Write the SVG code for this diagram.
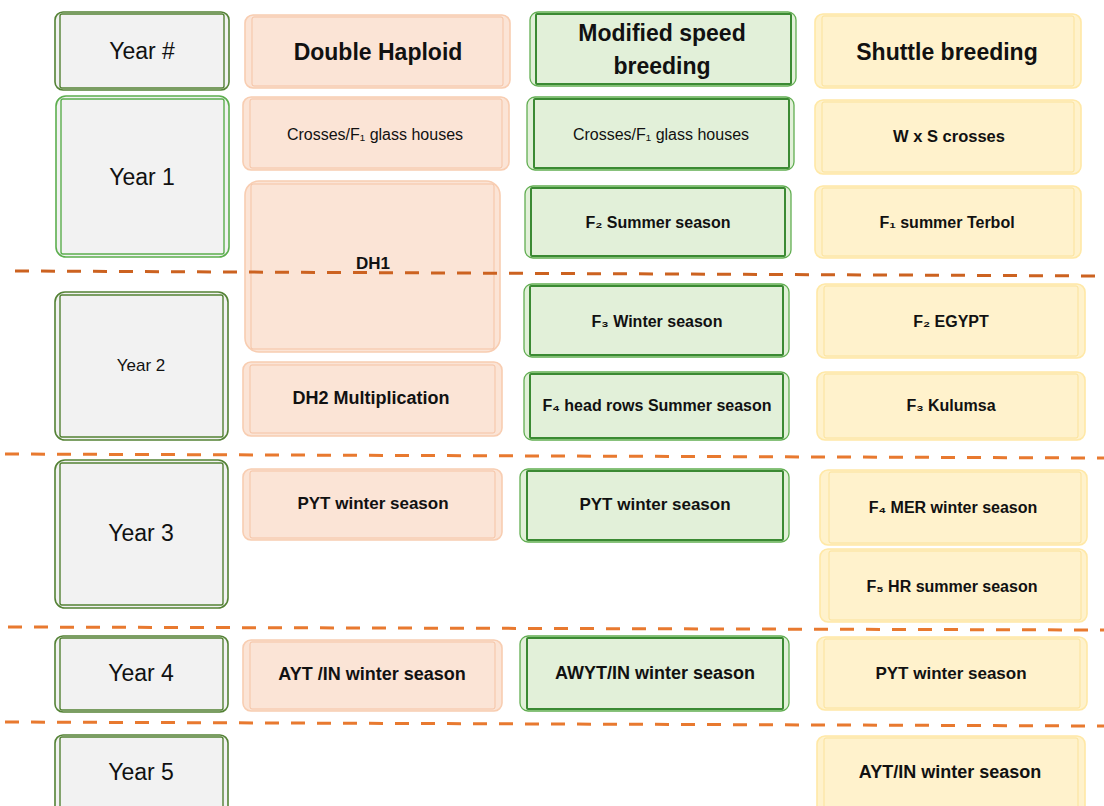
<svg xmlns="http://www.w3.org/2000/svg" width="1104" height="806" viewBox="0 0 1104 806">
<style>
text{font-family:"Liberation Sans",Arial,sans-serif;fill:#111;text-anchor:middle;dominant-baseline:central}
.yr rect{fill:#F2F2F2;stroke:#548235;stroke-width:1.6}
.yr1 rect{stroke:#5CAE4E}
.yr rect.in{fill:none;stroke-width:1.4}
.dh rect{fill:#FBE4D6;stroke:#F8CDB1;stroke-width:1.6}
.dh rect.in{fill:none;stroke:#F5C3A4;stroke-width:1}
.sb rect{fill:#E2F0D9;stroke:#62AE52;stroke-width:1.3}
.sb rect.in{fill:none;stroke:#3B8A33;stroke-width:2}
.sh rect{fill:#FFF2CC;stroke:#FFE8A6;stroke-width:1.6}
.sh rect.in{fill:none;stroke:#FBE29A;stroke-width:1}
.big{font-size:23px}
.mid{font-size:17px}
.hd{font-size:23px;font-weight:bold}
.c{font-size:16px}
.b{font-size:16px;font-weight:bold}
.b7{font-size:17px;font-weight:bold}
.b8{font-size:18px;font-weight:bold}
.sep line{stroke-width:3;stroke-dasharray:14 12;fill:none}
</style>

<g id="year-hdr" class="yr"><rect x="55" y="12" width="174" height="78" rx="8"/><rect class="in" x="60" y="14" width="164" height="74" rx="2"/><text class="big" x="142" y="51">Year #</text></g>
<g id="year1" class="yr yr1"><rect x="56" y="96" width="173" height="161" rx="10"/><rect class="in" x="61" y="99" width="163" height="155" rx="2"/><text class="big" x="142" y="177">Year 1</text></g>
<g id="year2" class="yr"><rect x="55" y="292" width="173" height="148" rx="10"/><rect class="in" x="60" y="295" width="163" height="142" rx="2"/><text class="mid" x="141" y="365">Year 2</text></g>
<g id="year3" class="yr"><rect x="55" y="460" width="173" height="148" rx="10"/><rect class="in" x="60" y="463" width="163" height="142" rx="2"/><text class="big" x="141" y="533">Year 3</text></g>
<g id="year4" class="yr"><rect x="55" y="636" width="173" height="76" rx="8"/><rect class="in" x="60" y="638" width="163" height="72" rx="2"/><text class="big" x="141" y="673">Year 4</text></g>
<g id="year5" class="yr"><rect x="55" y="735" width="173" height="90" rx="8"/><rect class="in" x="60" y="737" width="163" height="86" rx="2"/><text class="big" x="141" y="772">Year 5</text></g>

<g id="dh-hdr" class="dh"><rect x="245" y="15" width="265" height="73" rx="8"/><rect class="in" x="252" y="17" width="251" height="69" rx="2"/><text class="hd" x="378" y="52">Double Haploid</text></g>
<g id="dh-crosses" class="dh"><rect x="243" y="97" width="266" height="73" rx="8"/><rect class="in" x="250" y="99" width="252" height="69" rx="2"/><text class="c" x="375" y="134">Crosses/F₁ glass houses</text></g>
<g id="dh-dh1" class="dh"><rect x="245" y="181" width="255" height="171" rx="14"/><rect class="in" x="251" y="184" width="243" height="165" rx="2"/><text class="b7" x="373" y="263">DH1</text></g>
<g id="dh-dh2" class="dh"><rect x="243" y="362" width="259" height="74" rx="8"/><rect class="in" x="250" y="365" width="245" height="68" rx="2"/><text class="b8" x="371" y="398">DH2 Multiplication</text></g>
<g id="dh-pyt" class="dh"><rect x="243" y="469" width="259" height="71" rx="8"/><rect class="in" x="250" y="471" width="245" height="67" rx="2"/><text class="b7" x="373" y="503">PYT winter season</text></g>
<g id="dh-ayt" class="dh"><rect x="243" y="640" width="259" height="71" rx="8"/><rect class="in" x="250" y="642" width="245" height="67" rx="2"/><text class="b8" x="372" y="674">AYT /IN winter season</text></g>

<g id="sb-hdr" class="sb"><rect x="530" y="12" width="266" height="74" rx="8"/><rect class="in" x="536" y="14" width="255" height="70" rx="1"/><text class="hd" x="662" y="33">Modified speed</text><text class="hd" x="662" y="66">breeding</text></g>
<g id="sb-crosses" class="sb"><rect x="527" y="97" width="267" height="73" rx="8"/><rect class="in" x="534" y="99" width="255" height="69" rx="1"/><text class="c" x="661" y="134">Crosses/F₁ glass houses</text></g>
<g id="sb-f2" class="sb"><rect x="525" y="186" width="266" height="72" rx="8"/><rect class="in" x="531" y="188" width="254" height="68" rx="1"/><text class="b" x="658" y="222">F₂ Summer season</text></g>
<g id="sb-f3" class="sb"><rect x="524" y="284" width="265" height="73" rx="8"/><rect class="in" x="530" y="286" width="253" height="69" rx="1"/><text class="b" x="657" y="321">F₃ Winter season</text></g>
<g id="sb-f4" class="sb"><rect x="524" y="372" width="265" height="68" rx="8"/><rect class="in" x="530" y="374" width="253" height="64" rx="1"/><text class="b" x="657" y="405">F₄ head rows Summer season</text></g>
<g id="sb-pyt" class="sb"><rect x="520" y="469" width="269" height="73" rx="8"/><rect class="in" x="527" y="471" width="256" height="69" rx="1"/><text class="b7" x="655" y="504">PYT winter season</text></g>
<g id="sb-awyt" class="sb"><rect x="520" y="636" width="269" height="75" rx="8"/><rect class="in" x="527" y="638" width="256" height="71" rx="1"/><text class="b8" x="655" y="673">AWYT/IN winter season</text></g>

<g id="sh-hdr" class="sh"><rect x="815" y="14" width="266" height="74" rx="8"/><rect class="in" x="822" y="16" width="252" height="70" rx="2"/><text class="hd" x="947" y="52">Shuttle breeding</text></g>
<g id="sh-wxs" class="sh"><rect x="815" y="100" width="266" height="74" rx="8"/><rect class="in" x="822" y="102" width="252" height="70" rx="2"/><text class="b" x="949" y="136" style="font-size:16.5px">W x S crosses</text></g>
<g id="sh-f1" class="sh"><rect x="815" y="186" width="266" height="72" rx="8"/><rect class="in" x="822" y="188" width="252" height="68" rx="2"/><text class="b" x="947" y="222">F₁ summer Terbol</text></g>
<g id="sh-f2" class="sh"><rect x="817" y="284" width="268" height="74" rx="8"/><rect class="in" x="824" y="286" width="254" height="70" rx="2"/><text class="b" x="951" y="321">F₂ EGYPT</text></g>
<g id="sh-f3" class="sh"><rect x="817" y="372" width="268" height="68" rx="8"/><rect class="in" x="824" y="374" width="254" height="64" rx="2"/><text class="b" x="951" y="405">F₃ Kulumsa</text></g>
<g id="sh-f4" class="sh"><rect x="820" y="470" width="267" height="75" rx="8"/><rect class="in" x="829" y="472" width="252" height="71" rx="2"/><text class="b" x="953" y="507">F₄ MER winter season</text></g>
<g id="sh-f5" class="sh"><rect x="820" y="549" width="267" height="73" rx="8"/><rect class="in" x="829" y="551" width="252" height="69" rx="2"/><text class="b" x="952" y="586">F₅ HR summer season</text></g>
<g id="sh-pyt" class="sh"><rect x="817" y="637" width="270" height="73" rx="8"/><rect class="in" x="824" y="639" width="256" height="69" rx="2"/><text class="b7" x="951" y="673">PYT winter season</text></g>
<g id="sh-ayt" class="sh"><rect x="817" y="736" width="268" height="90" rx="8"/><rect class="in" x="824" y="738" width="254" height="86" rx="2"/><text class="b8" x="950" y="772">AYT/IN winter season</text></g>

<g id="connectors" class="sep">
<line x1="15" y1="271" x2="1104" y2="276" stroke="#CC6220"/>
<line x1="5" y1="454" x2="1104" y2="458" stroke="#E8792F"/>
<line x1="8" y1="627" x2="1104" y2="630" stroke="#E8792F"/>
<line x1="5" y1="722" x2="1104" y2="726" stroke="#E8792F"/>
</g>
</svg>
